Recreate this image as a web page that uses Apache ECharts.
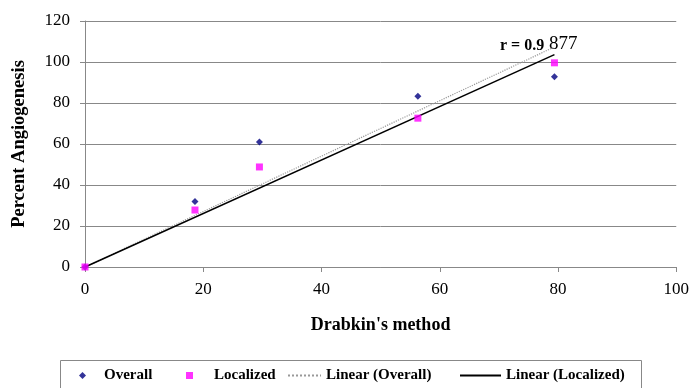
<!DOCTYPE html>
<html><head><meta charset="utf-8">
<script src="https://cdn.jsdelivr.net/npm/echarts@6/dist/echarts.min.js"></script>
<style>html,body{margin:0;padding:0;background:#fff}#c{width:692px;height:388px}</style>
</head><body><div id="c"></div>
<script>
const xValues = [0, 18.6, 29.5, 56.3, 79.4];
const overall = [0, 32, 61, 83.3, 92.8];
const localized = [0, 27.8, 48.8, 72.6, 99.6];
const xTicks = [0, 20, 40, 60, 80, 100];
const yTicks = [0, 20, 40, 60, 80, 100, 120];

function slopeThroughOrigin(xs, ys) {
  let sxy = 0, sxx = 0;
  for (let i = 0; i < xs.length; i++) { sxy += xs[i] * ys[i]; sxx += xs[i] * xs[i]; }
  return sxy / sxx;
}
const xMax = Math.max(...xValues);
const sO = slopeThroughOrigin(xValues, overall);
const sL = slopeThroughOrigin(xValues, localized);
const pair = (ys) => xValues.map((x, i) => [x, ys[i]]);

const font = 'Liberation Serif';
const legText = { fontFamily: font, fontWeight: 'bold', fontSize: 15, color: '#000' };
function leg(name, left, w, h, pad, extra) {
  return Object.assign({
    left: left, top: 368, padding: 0, itemWidth: w, itemHeight: h,
    textStyle: Object.assign({}, legText, { padding: [0, 0, 0, pad] }),
    data: [name]
  }, extra || {});
}
const chart = echarts.init(document.getElementById('c'));
chart.setOption({
  animation: false,
  backgroundColor: '#fff',
  grid: { left: 85, right: 12, top: 21, bottom: 121 },
  xAxis: {
    type: 'value', min: 0, max: 100, interval: 20,
    name: "Drabkin's method", nameLocation: 'middle', nameGap: 49,
    nameTextStyle: { fontFamily: font, fontWeight: 'bold', fontSize: 18, color: '#000' },
    axisLine: { lineStyle: { color: '#888' } },
    axisTick: { show: true, lineStyle: { color: '#888' }, length: 5 },
    axisLabel: { fontFamily: font, fontSize: 17, color: '#000', margin: 14 },
    splitLine: { show: false }
  },
  yAxis: {
    type: 'value', min: 0, max: 120, interval: 20,
    name: 'Percent Angiogenesis', nameLocation: 'middle', nameGap: 56,
    nameTextStyle: { fontFamily: font, fontWeight: 'bold', fontSize: 18.5, color: '#000' },
    axisLine: { show: true, lineStyle: { color: '#888' } },
    axisTick: { show: true, lineStyle: { color: '#888' }, length: 5 },
    axisLabel: { fontFamily: font, fontSize: 17, color: '#000', margin: 15 },
    splitLine: { show: true, lineStyle: { color: '#888', width: 1 } }
  },
  legend: [
    leg('Overall', 79, 7, 7, 13, { icon: 'diamond' }),
    leg('Localized', 186, 7, 7, 16, { icon: 'rect' }),
    leg('Linear (Overall)', 287, 33, 14, 0, { itemStyle: { opacity: 0 } }),
    leg('Linear (Localized)', 459, 41, 14, 0, { itemStyle: { opacity: 0 } })
  ],
  graphic: [
    { type: 'rect', shape: { x: 60.5, y: 360.5, width: 581, height: 40 }, style: { fill: 'none', stroke: '#888', lineWidth: 1 }, silent: true },
    { type: 'text', left: 500, top: 38, style: { text: 'r = 0.9', fontFamily: font, fontWeight: 'bold', fontSize: 16, fill: '#000' } },
    { type: 'text', left: 549, top: 35, style: { text: '877', fontFamily: font, fontSize: 19, fill: '#000' } }
  ],
  series: [
    {
      name: 'Linear (Overall)', type: 'line', symbol: 'none', z: 2,
      data: [[0, 0], [xMax, sO * xMax]],
      lineStyle: { color: '#999', width: 1.2, type: 'dotted' }, itemStyle: { color: '#999' }
    },
    {
      name: 'Linear (Localized)', type: 'line', symbol: 'none', z: 2,
      data: [[0, 0], [xMax, sL * xMax]],
      lineStyle: { color: '#000', width: 1.5 }, itemStyle: { color: '#000' }
    },
    {
      name: 'Overall', type: 'scatter', symbol: 'diamond', symbolSize: 7, z: 3,
      data: pair(overall), itemStyle: { color: '#000080' }
    },
    {
      name: 'Localized', type: 'scatter', symbol: 'rect', symbolSize: 7, z: 4,
      data: pair(localized), itemStyle: { color: '#ff00ff' }
    }
  ]
});
</script></body></html>
